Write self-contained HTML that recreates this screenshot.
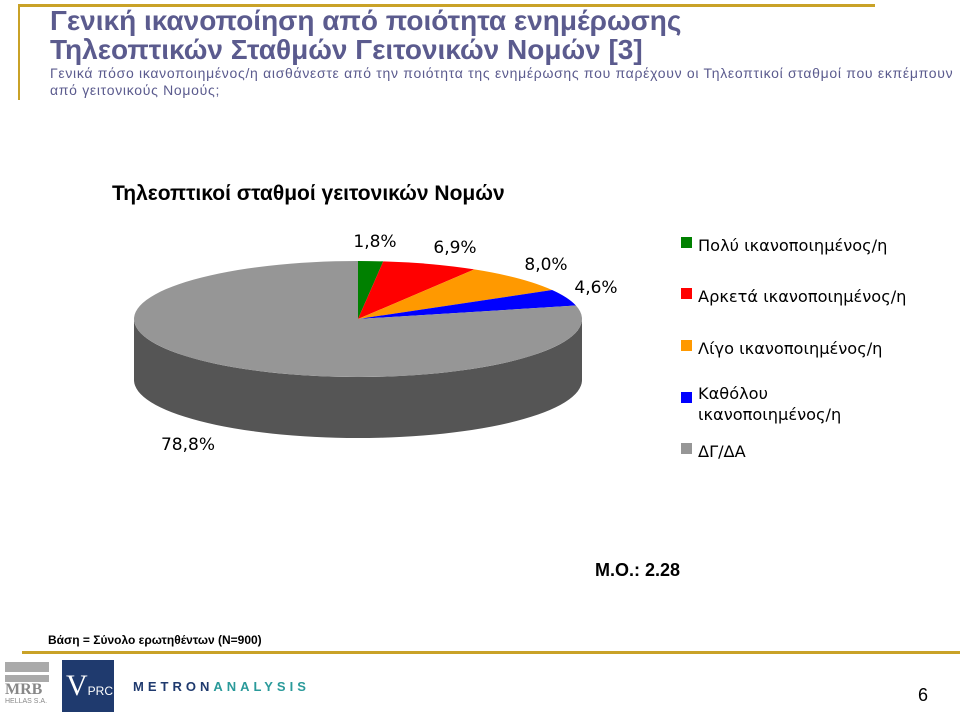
<!DOCTYPE html>
<html><head><meta charset="utf-8">
<style>
body{margin:0;background:#fff;}
#page{position:relative;width:960px;height:713px;overflow:hidden;font-family:"Liberation Sans","DejaVu Sans",sans-serif;}
.t{position:absolute;white-space:nowrap;}
</style></head>
<body>
<div id="page">
<div style="position:absolute;left:18px;top:4px;width:857px;height:3px;background:#c9a227"></div>
<div style="position:absolute;left:18px;top:4px;width:2px;height:96px;background:#c9a227"></div>
<div class="t" style="left:50px;top:6px;font-size:28px;font-weight:bold;color:#5b5b8e;line-height:29px">Γενική ικανοποίηση από ποιότητα ενημέρωσης<br>Τηλεοπτικών Σταθμών Γειτονικών Νομών [3]</div>
<div class="t" style="left:50px;top:65px;font-size:14px;letter-spacing:0.7px;color:#5b5b8e;line-height:17px">Γενικά πόσο ικανοποιημένος/η αισθάνεστε από την ποιότητα της ενημέρωσης που παρέχουν οι Τηλεοπτικοί σταθμοί που εκπέμπουν<br>από γειτονικούς Νομούς;</div>
<div class="t" style="left:112px;top:182px;font-size:21px;font-weight:bold;color:#000">Τηλεοπτικοί σταθμοί γειτονικών Νομών</div>
<svg id="chart" width="960" height="713" style="position:absolute;left:0;top:0"></svg>
<div class="t" style="left:595px;top:560px;font-size:18px;font-weight:bold">M.O.: 2.28</div>
<div class="t" style="left:48px;top:633px;font-size:12px;font-weight:bold">Βάση = Σύνολο ερωτηθέντων (N=900)</div>
<div style="position:absolute;left:22px;top:651px;width:938px;height:3px;background:#c9a227"></div>
<div style="position:absolute;left:5px;top:662px;width:44px;height:44px">
 <div style="height:10px;background:#aaa"></div><div style="height:3px"></div><div style="height:7px;background:#aaa"></div>
 <div style="font-family:'Liberation Serif',serif;font-weight:bold;font-size:16px;color:#888;line-height:16px">MRB</div>
 <div style="font-size:7px;color:#888">HELLAS S.A.</div></div>
<div style="position:absolute;left:62px;top:660px;width:52px;height:52px;background:#1f3a6e;color:#fff;font-family:'Liberation Serif',serif;font-size:30px;line-height:52px;padding-left:4px;box-sizing:border-box">V<span style="font-family:'Liberation Sans';font-size:12px">PRC</span></div>
<div class="t" style="left:133px;top:679px;font-size:13px;font-weight:bold;letter-spacing:4px;color:#1f3a6e">METRON<span style="color:#2a9a9a">ANALYSIS</span></div>
<div class="t" style="left:918px;top:685px;font-size:18px">6</div>
</div>
<script>
const categories=["Πολύ ικανοποιημένος/η","Αρκετά ικανοποιημένος/η","Λίγο ικανοποιημένος/η","Καθόλου ικανοποιημένος/η","ΔΓ/ΔΑ"];
const values=[1.8,6.9,8.0,4.6,78.8];
const labels=["1,8%","6,9%","8,0%","4,6%","78,8%"];
const colors=["#008000","#ff0000","#ff9900","#0000ff","#969696"];
const sideColors=["#004000","#800000","#804c00","#000080","#555555"];
const NS="http://www.w3.org/2000/svg";
const svg=document.getElementById('chart');
const cx=358,cy=319,rx=224,ry=58,depth=61;
const total=values.reduce((a,b)=>a+b,0);
function pt(a,dy){return [cx+rx*Math.sin(a),cy-ry*Math.cos(a)+(dy||0)];}
function mk(tag,attrs){const e=document.createElementNS(NS,tag);for(const k in attrs)e.setAttribute(k,attrs[k]);svg.appendChild(e);return e;}
let angles=[],acc=0;
values.forEach(v=>{const a0=acc/total*2*Math.PI;acc+=v;angles.push([a0,acc/total*2*Math.PI]);});
angles.forEach(([a0,a1],i)=>{
  const s=Math.max(a0,Math.PI/2),e=Math.min(a1,3*Math.PI/2);
  if(e<=s)return;
  const p0=pt(s),p1=pt(e);
  const d=`M${p0[0]},${p0[1]} A${rx},${ry} 0 0 1 ${p1[0]},${p1[1]} L${p1[0]},${p1[1]+depth} A${rx},${ry} 0 0 0 ${p0[0]},${p0[1]+depth} Z`;
  const el=mk('path',{d,fill:sideColors[i]});
  
  
});
angles.forEach(([a0,a1],i)=>{
  const p0=pt(a0),p1=pt(a1);
  const large=(a1-a0)>Math.PI?1:0;
  const d=`M${cx},${cy} L${p0[0]},${p0[1]} A${rx},${ry} 0 ${large} 1 ${p1[0]},${p1[1]} Z`;
  const el=mk('path',{d,fill:colors[i]});
  
  
});
const labelPos=[[375,247],[455,253],[546,270],[596,293],[188,450]];
labels.forEach((l,i)=>{
  const t=mk('text',{x:labelPos[i][0],y:labelPos[i][1],'text-anchor':'middle','font-size':17,'font-family':'DejaVu Sans, sans-serif',fill:'#000'});
  t.textContent=l;
  
  
});
const legY=[245,296,348,400,451];
categories.forEach((c,i)=>{
  const r=mk('rect',{x:681,y:legY[i]-8,width:11,height:11,fill:colors[i]});
  
  
  const t=mk('text',{x:698,y:legY[i]+6,'font-size':16.2,'font-family':'DejaVu Sans, sans-serif',fill:'#000'});
  
  
  if(i===3){t.setAttribute('y',legY[i]-1);
    const a=document.createElementNS(NS,'tspan');a.textContent='Καθόλου';t.appendChild(a);
    const b=document.createElementNS(NS,'tspan');b.setAttribute('x',698);b.setAttribute('dy',21);b.textContent='ικανοποιημένος/η';t.appendChild(b);
  } else t.textContent=c;
});
</script>
</body></html>
